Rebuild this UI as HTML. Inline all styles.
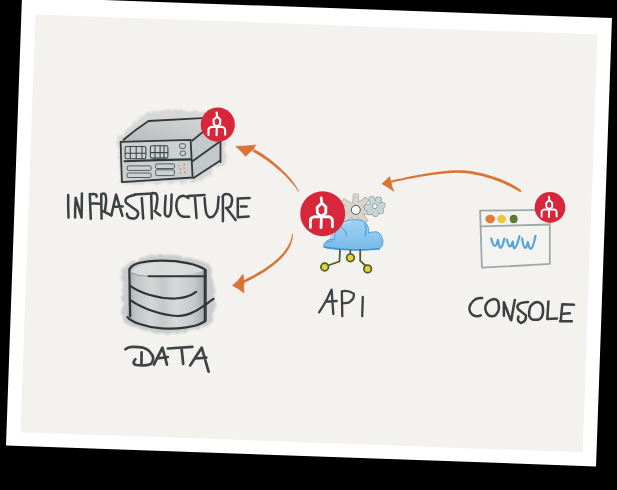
<!DOCTYPE html>
<html><head><meta charset="utf-8"><title>INFRASTRUCTURE · DATA · API · CONSOLE</title>
<style>
html,body{margin:0;padding:0;background:#000;width:617px;height:490px;overflow:hidden;}
svg{position:absolute;left:0;top:0;display:block;}
</style></head>
<body>
<svg width="617" height="490" viewBox="0 0 617 490" role="img" aria-label="Hand-drawn diagram: API connected to INFRASTRUCTURE, DATA and CONSOLE">
<defs>
  <filter id="blur3" x="-30%" y="-30%" width="160%" height="160%"><feGaussianBlur stdDeviation="3"/></filter>
  <filter id="halo" x="-30%" y="-30%" width="160%" height="160%"><feTurbulence type="fractalNoise" baseFrequency="0.15" numOctaves="2" seed="3" result="n"/><feDisplacementMap in="SourceGraphic" in2="n" scale="7" result="d"/><feGaussianBlur in="d" stdDeviation="1.3"/></filter>
  <filter id="blur1" x="-30%" y="-30%" width="160%" height="160%"><feGaussianBlur stdDeviation="1"/></filter>
  <linearGradient id="cyl" x1="0" x2="1" y1="0" y2="0">
    <stop offset="0" stop-color="#a3a8a8"/><stop offset="0.1" stop-color="#c0c4c4"/><stop offset="0.3" stop-color="#d5d7d7"/>
    <stop offset="0.45" stop-color="#c6c9c9"/><stop offset="0.62" stop-color="#d7d9d9"/><stop offset="0.85" stop-color="#c4c8c8"/><stop offset="1" stop-color="#a5aaaa"/>
  </linearGradient>
  <filter id="blur2" x="-30%" y="-30%" width="160%" height="160%"><feGaussianBlur stdDeviation="2.2"/></filter>
  <linearGradient id="cloudg" x1="0" x2="0" y1="0" y2="1">
    <stop offset="0" stop-color="#9fd1f1"/><stop offset="0.55" stop-color="#8ac6ee"/><stop offset="1" stop-color="#76b9e8"/>
  </linearGradient>
  <linearGradient id="topf" x1="0" x2="1" y1="1" y2="0">
    <stop offset="0" stop-color="#b7bbbc"/><stop offset="1" stop-color="#d4d7d7"/>
  </linearGradient>
  <linearGradient id="srv" x1="0" x2="0" y1="0" y2="1">
    <stop offset="0" stop-color="#c9cdcd"/><stop offset="1" stop-color="#b3b8b8"/>
  </linearGradient>
  <g id="logo" fill="none" stroke="#fff" stroke-width="2.2" stroke-linecap="round" stroke-linejoin="round" transform="scale(0.97,0.95)">
    <path d="M-1.2,-12.6 L-0.7,-8.6 L-4.4,-5.0 L-4.1,-0.4 L-1.0,2.2 L2.4,-0.4 L2.5,-5.3 L-0.7,-8.6"/>
    <path d="M-1.0,2.2 L-1.3,11.2"/>
    <path d="M-1.0,2.6 L-6.8,2.4 Q-9.4,3.2 -9.6,5.2 L-9.6,11"/>
    <path d="M-1.0,2.6 L5.2,2.4 Q7.3,3.2 7.5,5.2 L7.6,10.6"/>
  </g>
</defs>

<!-- card -->
<g transform="translate(22,-4) rotate(2.04)">
  <rect x="0" y="1.1" width="590.4" height="448.6" fill="#ffffff"/>
  <rect x="14" y="18" width="562.6" height="418" fill="#f3f2ef"/>
</g>

<!-- ===== SERVER ===== -->
<g>
  <path d="M117,141 L126,130 L147,112 L170,110 L200,112 L224,116 L226,162 L197,182 L121,184 Z" fill="#d6d7d6" filter="url(#halo)"/>
  <path d="M120.6,141.9 L148.5,121 L202,118.1 L220.5,119.5 L220.5,161 L192.8,178 L121.9,182 Z" fill="#c4c8c8"/>
  <path d="M121,141.5 L148.5,121 L210,118.1 L191,139.9 Z" fill="url(#topf)"/>
  <path d="M120.6,141.9 L190.6,139.9 L192.6,177.5 L121.9,182.1 Z" fill="#ccd0d0"/>
  <path d="M192,140 L220.5,121 L220.5,161 L192.8,178 Z" fill="#c3c8c8"/>
  <g fill="none" stroke="#33383a" stroke-width="1.8" stroke-linecap="round" stroke-linejoin="round">
    <path d="M120.6,141.9 L190.6,139.9 L192.6,177.5 L121.9,182.1 Z"/>
    <path d="M123.5,139.7 Q135,130 148.5,121 L202,118.1"/>
    <path d="M192.1,140.7 L203.6,131.4"/>
    <path d="M192.1,161.4 L219.3,142.1"/>
    <path d="M193.6,177.9 L220,160.7"/>
    <path d="M220.5,141.4 L220.5,162.1"/>
    <path d="M124.5,161.3 Q158,160 190.6,159.4" stroke-width="2.1"/>
  </g>
  <g fill="none" stroke="#3c4143" stroke-width="1.05" stroke-linecap="round">
    <rect x="125.1" y="146.4" width="20.8" height="12.3" rx="1.5"/>
    <path d="M130.3,146.6 V158.5 M136.2,146.6 V158.5 M142,146.6 V158.5 M125.3,153.3 H145.7"/>
    <rect x="150.4" y="145.8" width="17.5" height="12.3" rx="1.5"/>
    <path d="M155,146 V158 M160.1,146 V158 M164,146 V158 M150.6,152.6 H167.7"/>
  </g>
  <g fill="none" stroke="#52575a" stroke-width="0.95">
    <rect x="179.6" y="143.8" width="5.8" height="4.6" rx="1.5"/>
    <rect x="180.2" y="151" width="5.2" height="4.5" rx="1.5"/>
    <rect x="127.1" y="165.9" width="24" height="4.5" rx="1.2"/>
    <rect x="127.1" y="173" width="24" height="4.5" rx="1.2"/>
    <rect x="155.6" y="163.9" width="18.8" height="4.6" rx="1.2"/>
    <rect x="155.6" y="169.8" width="18.8" height="5.8" rx="1.2"/>
  </g>
  <g fill="#e0782f">
    <circle cx="178.9" cy="165.9" r="0.7"/><circle cx="184.1" cy="164.6" r="0.8"/>
    <circle cx="180.2" cy="169.1" r="0.8"/><circle cx="184.1" cy="168.1" r="0.8"/>
    <circle cx="180.2" cy="173" r="0.8"/><circle cx="184.8" cy="172.4" r="0.8"/>
  </g>
  <circle cx="217.8" cy="124.6" r="17.1" fill="#d8263a"/>
  <use href="#logo" transform="translate(217.8,124.6)"/>
</g>

<!-- ===== INFRASTRUCTURE text ===== -->
<g fill="none" stroke="#3b4143" stroke-width="2.5" stroke-linecap="round" stroke-linejoin="round">
  <path d="M68.2,194.9 Q68,206 68.5,217.5"/>
  <path d="M75.7,197.8 Q75,208 75.1,217.5 M75.7,197.8 L81.6,217.5 M81.9,193.6 L81.6,217.5"/>
  <path d="M89.8,193.9 Q90.2,206 90.8,218.8 M89.8,194.5 Q94,193.3 96,194.5 Q97,195.5 96.5,196.8 M90.8,203.2 L99.5,203.7"/>
  <path d="M101.2,194.3 Q101.3,206 101.6,218.6 M101.8,194 Q104.5,192.8 105.6,195 Q106.5,198 106,203 L105,210.5 M103.6,211.3 L111.3,215.4"/>
  <path d="M111.3,215.4 L116.1,194.6 L122.4,215.8 M114.4,206.8 L122.7,206.4"/>
  <path d="M134.8,194.9 Q131,195.5 128.9,196.7 Q125.5,198.5 125.5,200.2 Q125.8,202 126.2,202.9 L137.3,210.9 Q138.5,213 138,215.1 Q136.5,218.6 133.8,218.6 Q129.5,218.5 128.3,217.2 Q126.9,215.5 126.9,213.7"/>
  <path d="M134.5,194.6 Q143,194 152.6,193.6 M141.8,198.1 Q142.5,208 143.2,218.6"/>
  <path d="M151.2,195.6 L151.9,218.6 M152.6,192.9 Q155,192.8 156,193.6 Q157.6,195.5 157.4,198.4 Q157,204 156,208.8 M154.6,210.9 Q157,213.5 160.2,215.4"/>
  <path d="M165.7,195.7 Q164.5,210 165,214.5 Q166.5,217.2 169,216.3 Q171,214 171.2,208 L171.6,194.5"/>
  <path d="M188.4,198.1 Q185,195.5 182.7,195.7 Q179,196.5 177.9,198.5 Q176,202 176.3,206.6 Q176.8,211 178.7,213.9 Q181,216.5 183.6,216.8 L189.2,216.8"/>
  <path d="M188,196.1 L204.6,194.9 M194.9,196.1 L196.5,218"/>
  <path d="M204.6,198.1 Q205,206 205.9,211.6 Q207,216.5 209.4,217.3 Q212,217.5 213.7,216 Q216.5,213 217.7,208.1 L218.6,196.7"/>
  <path d="M222.9,197.6 L222.9,221.2 M222.5,196.8 Q224,194 226,194.1 Q229.5,194 230.8,195.9 Q232.3,197.5 232.1,200.2 Q231.8,204.5 230.4,206.4 Q228.5,207.8 226,208.1 M226.9,208.6 L235.6,219.9"/>
  <path d="M237.8,198.5 L237.8,217.3 M237.8,198.5 L249.6,198.1 M240.9,206.4 L246.6,206.4 M237.8,217.3 L248.7,216.4"/>
</g>

<!-- ===== ARROWS ===== -->
<g fill="#da7436" stroke="none">
  <path d="M298.86,191.32 L298.30,190.11 L297.63,188.83 L296.88,187.51 L296.03,186.13 L295.10,184.72 L294.09,183.27 L292.99,181.78 L291.82,180.26 L290.59,178.72 L289.25,177.18 L287.85,175.63 L286.38,174.08 L284.86,172.51 L283.29,170.95 L281.67,169.38 L280.01,167.83 L278.31,166.28 L276.57,164.75 L274.80,163.23 L273.00,161.74 L271.18,160.28 L269.33,158.85 L267.45,157.47 L265.57,156.13 L263.67,154.84 L261.77,153.59 L259.87,152.39 L257.97,151.25 L256.07,150.18 L254.20,149.17 L252.80,151.83 L254.64,152.79 L256.49,153.81 L258.35,154.90 L260.21,156.04 L262.08,157.24 L263.95,158.48 L265.81,159.78 L267.66,161.11 L269.50,162.46 L271.33,163.85 L273.14,165.26 L274.92,166.70 L276.68,168.16 L278.40,169.63 L280.08,171.12 L281.71,172.61 L283.30,174.10 L284.84,175.60 L286.32,177.08 L287.75,178.56 L289.12,180.02 L290.44,181.43 L291.70,182.83 L292.88,184.20 L293.98,185.54 L295.00,186.85 L295.93,188.12 L296.76,189.35 L297.50,190.54 L298.14,191.68Z"/>
  <path d="M521.58,190.68 L520.26,189.66 L518.83,188.61 L517.31,187.56 L515.71,186.50 L514.02,185.45 L512.25,184.40 L510.35,183.43 L508.39,182.48 L506.36,181.55 L504.27,180.63 L502.13,179.73 L499.92,178.85 L497.67,178.00 L495.37,177.18 L493.03,176.38 L490.65,175.63 L488.23,174.90 L485.79,174.22 L483.32,173.58 L480.83,172.99 L478.32,172.44 L475.79,171.94 L473.26,171.50 L470.72,171.12 L468.17,170.79 L465.63,170.53 L463.10,170.34 L460.57,170.22 L458.06,170.17 L455.57,170.19 L453.46,170.30 L451.34,170.43 L449.20,170.59 L447.04,170.77 L444.86,170.98 L442.65,171.21 L440.44,171.47 L438.20,171.74 L435.96,172.04 L433.70,172.35 L431.43,172.68 L429.16,173.03 L426.88,173.40 L424.60,173.78 L422.32,174.17 L420.04,174.58 L417.76,175.00 L415.49,175.42 L413.22,175.86 L410.96,176.31 L408.71,176.76 L406.48,177.22 L404.26,177.68 L402.05,178.15 L399.87,178.63 L397.70,179.11 L395.56,179.59 L393.44,180.07 L391.34,180.55 L389.28,181.03 L389.72,182.97 L391.79,182.51 L393.88,182.05 L396.00,181.58 L398.14,181.12 L400.30,180.66 L402.49,180.21 L404.69,179.75 L406.90,179.30 L409.13,178.86 L411.38,178.43 L413.63,178.00 L415.89,177.58 L418.16,177.18 L420.43,176.79 L422.70,176.41 L424.98,176.04 L427.25,175.68 L429.51,175.34 L431.77,175.02 L434.03,174.72 L436.27,174.43 L438.50,174.16 L440.71,173.91 L442.91,173.68 L445.09,173.48 L447.25,173.29 L449.39,173.13 L451.51,173.00 L453.59,172.89 L455.63,172.81 L458.04,172.81 L460.47,172.88 L462.92,173.03 L465.38,173.23 L467.85,173.50 L470.33,173.83 L472.81,174.22 L475.28,174.67 L477.74,175.17 L480.20,175.72 L482.63,176.31 L485.05,176.95 L487.44,177.64 L489.80,178.36 L492.12,179.12 L494.41,179.90 L496.66,180.72 L498.86,181.57 L501.01,182.44 L503.10,183.33 L505.14,184.24 L507.11,185.17 L509.02,186.11 L510.85,187.05 L512.65,187.92 L514.38,188.80 L516.02,189.67 L517.58,190.55 L519.04,191.43 L520.42,192.32Z"/>
  <path d="M292.10,233.48 L291.90,235.29 L291.57,237.07 L291.13,238.82 L290.56,240.54 L289.88,242.24 L289.09,243.92 L288.18,245.57 L287.20,247.21 L286.15,248.87 L284.99,250.51 L283.73,252.14 L282.37,253.76 L280.90,255.36 L279.34,256.95 L277.67,258.53 L275.92,260.09 L274.07,261.64 L272.14,263.17 L270.12,264.69 L268.01,266.20 L265.83,267.70 L263.57,269.19 L261.23,270.66 L258.82,272.12 L256.33,273.57 L253.78,275.00 L251.16,276.42 L248.47,277.82 L245.72,279.21 L242.90,280.59 L244.10,283.01 L246.92,281.62 L249.70,280.20 L252.41,278.77 L255.06,277.32 L257.65,275.86 L260.17,274.39 L262.61,272.89 L264.99,271.38 L267.29,269.86 L269.51,268.31 L271.64,266.74 L273.69,265.16 L275.66,263.55 L277.54,261.93 L279.33,260.30 L281.02,258.64 L282.62,256.97 L284.12,255.28 L285.52,253.57 L286.82,251.84 L288.02,250.10 L289.10,248.33 L290.03,246.52 L290.81,244.69 L291.47,242.84 L292.01,240.99 L292.43,239.13 L292.71,237.26 L292.87,235.39 L292.90,233.52Z"/>
</g>
<g fill="#da7436" stroke="#da7436" stroke-width="0.9" stroke-linejoin="round">
  <path d="M235.8,146.4 Q246,146.5 255.6,145.1 Q253.5,147 253.8,149.2 Q249,152 245.6,156.2 Q241,150.5 235.8,146.4 Z"/>
  <path d="M382.1,183.8 Q386,180.5 389.6,176.7 Q390,179.5 390.8,181.8 Q391.5,187 393.8,191.2 Q387.5,186.5 382.1,183.8 Z"/>
  <path d="M232.6,285.5 Q238.5,281 243,274.4 Q243.2,278 244.2,281.2 Q243,287 243.9,292.8 Q238,288 232.6,285.5 Z"/>
</g>

<!-- ===== DATA cylinder ===== -->
<g>
  <path d="M122,272 Q128,257 160,255 Q195,256 211,266 L216,300 L212,324 Q190,334 165,334 Q133,331 122,320 Z" fill="#c9cccc" filter="url(#halo)"/>
  <path d="M129.3,270.2 Q131,262 161.4,260.7 Q190,261.5 205.7,270.2 L204.8,321.4 Q197.5,327 168.3,328.4 Q135,326 127.5,317.1 Z" fill="url(#cyl)"/>
  <path d="M131,271 Q138,263 161.4,262 Q190,262.5 204,270.5 Q190,275.5 150,276.5 Q135,276 131,271 Z" fill="#dcdede" opacity="0.85"/>
  <g fill="none" stroke="#2f3436" stroke-width="2.2" stroke-linecap="round" stroke-linejoin="round">
    <path d="M130.2,316.2 L129.3,270.2 C130.5,264 140,261 161.4,260.7 C180,260.6 198,264 205.7,270.2"/>
    <path d="M148.4,276.3 L204.8,276.3" stroke-width="2.1"/>
    <path d="M204.8,271.1 L204.8,321.4"/>
    <path d="M206.5,269.4 L206.5,321" stroke-width="1.0" stroke="#55595b"/>
    <path d="M130.2,285.9 C140,293 158,299 175,298.5 C186,298 192,295 196.1,291.9"/>
    <path d="M131,300.6 C142,308 160,315 178,316 C192,316 203,306 213.5,298.9"/>
    <path d="M127.5,317.1 C131,322 145,327 161.4,328.4 C178,329.5 197,327 204.8,321.4"/>
  </g>
  <path d="M130,272.5 Q139,276.5 148,276.3" fill="none" stroke="#8a8f90" stroke-width="0.8"/>
</g>

<!-- ===== DATA text ===== -->
<g fill="none" stroke="#3d4345" stroke-width="2.7" stroke-linecap="round" stroke-linejoin="round">
  <path d="M125.4,349.2 Q128,347 132.3,346.9 Q138,346.8 143.1,347.7 Q149,349.5 150.8,353.1 Q153.5,356 153.1,358.5 Q153,362 150.8,363.9 Q147,365.5 143.1,365.4 Q138,365.5 135.4,364.7 Q133,363.5 133.9,361.6 Q134.5,360 135.4,359.3"/>
  <path d="M141.6,352.3 L141.4,364.7"/>
  <path d="M153.9,364.7 L162.4,347.7 L167,364.7 M157,358.5 L167.8,357"/>
  <path d="M167.8,348.5 L192.4,346.9 M181.6,348.5 L183.2,363.9"/>
  <path d="M190.1,365.4 L201.7,347.7 L208.6,371.6 M195.5,358.5 L206.3,357.7"/>
</g>

<!-- ===== API icon ===== -->
<g>
  <!-- gear big -->
  <g transform="translate(355.8,209.9)">
    <g fill="#aba69f" stroke="#aba69f" stroke-width="1.3" stroke-linejoin="round"><path d="M-1.97,-5.04 L-11.68,-10.86 L-14.20,-7.26 L-5.41,-0.12Z"/><path d="M3.00,-4.50 L2.20,-15.80 L-2.20,-15.80 L-3.00,-4.50Z"/><path d="M5.30,-1.06 L12.73,-9.62 L9.62,-12.73 L1.06,-5.30Z"/><path d="M4.04,3.60 L15.34,4.38 L15.95,0.02 L4.87,-2.34Z"/><path d="M0.59,5.38 L8.47,13.52 L11.84,10.69 L5.19,1.52Z"/><path d="M-3.38,4.22 L-3.57,15.55 L0.81,15.93 L2.60,4.74Z"/><path d="M-5.38,0.59 L-13.52,8.47 L-10.69,11.84 L-1.52,5.19Z"/><path d="M-4.22,-3.38 L-15.55,-3.57 L-15.93,0.81 L-4.74,2.60Z"/><circle r="7.6"/></g>
    <g fill="#d6d2cc"><path d="M-1.97,-5.04 L-11.68,-10.86 L-14.20,-7.26 L-5.41,-0.12Z"/><path d="M3.00,-4.50 L2.20,-15.80 L-2.20,-15.80 L-3.00,-4.50Z"/><path d="M5.30,-1.06 L12.73,-9.62 L9.62,-12.73 L1.06,-5.30Z"/><path d="M4.04,3.60 L15.34,4.38 L15.95,0.02 L4.87,-2.34Z"/><path d="M0.59,5.38 L8.47,13.52 L11.84,10.69 L5.19,1.52Z"/><path d="M-3.38,4.22 L-3.57,15.55 L0.81,15.93 L2.60,4.74Z"/><path d="M-5.38,0.59 L-13.52,8.47 L-10.69,11.84 L-1.52,5.19Z"/><path d="M-4.22,-3.38 L-15.55,-3.57 L-15.93,0.81 L-4.74,2.60Z"/><circle r="7.6"/></g>
    <circle r="4.5" fill="#fbfbfa" stroke="#3f4446" stroke-width="0.9"/>
  </g>
  <!-- gear small -->
  <g transform="translate(374.8,206.2)">
    <g fill="#8ea2a6" stroke="#8ea2a6" stroke-width="1.4"><circle cx="-2.89" cy="-6.81" r="2.7"/><circle cx="3.81" cy="-6.34" r="2.7"/><circle cx="7.36" cy="-0.77" r="2.7"/><circle cx="5.83" cy="4.56" r="2.7"/><circle cx="0.64" cy="7.37" r="2.7"/><circle cx="-4.76" cy="5.67" r="2.7"/><circle cx="-7.29" cy="1.28" r="2.7"/><circle r="5.4"/></g>
    <g fill="#c9d6d8"><circle cx="-2.89" cy="-6.81" r="2.7"/><circle cx="3.81" cy="-6.34" r="2.7"/><circle cx="7.36" cy="-0.77" r="2.7"/><circle cx="5.83" cy="4.56" r="2.7"/><circle cx="0.64" cy="7.37" r="2.7"/><circle cx="-4.76" cy="5.67" r="2.7"/><circle cx="-7.29" cy="1.28" r="2.7"/><circle r="5.4"/></g>
    <circle r="2.5" fill="#eef2f2" stroke="#7f9397" stroke-width="0.9"/>
  </g>
  <!-- cloud -->
  <path d="M329,240 Q331,233 337,229 L342,228 L344,240 Z" fill="#9fd0f0"/>
  <path d="M323.5,247.1 Q323.8,244 324.7,243.2 Q326.5,240.5 329.6,239.5 Q332.5,239 334.5,239.8 Q334.5,236 335.1,233.4 Q336.5,229 339.4,226 Q342.5,222.5 346.2,221.1 Q350.5,219.5 354.7,219.7 Q359,219.8 362.1,220.5 Q365.5,222 367,224.8 Q368.8,227.5 368.8,230.9 L368.4,233.2 Q370,232.3 371.9,232.1 Q375,231.5 378,232.1 Q380.5,233.5 381.6,236.4 Q383,239 382.9,241.9 Q382.8,245.5 381,247.4 Q380,248.6 378.6,249 Q366,249.9 354.7,249.9 Q344,249.8 336.4,249.3 Q328,248.8 323.5,247.1 Z" fill="url(#cloudg)" stroke="#4a9bdc" stroke-width="0.9"/>
  <path d="M325,247.3 Q340,249.6 354.7,249.9 Q368,249.9 379.5,248.7" fill="none" stroke="#3f93da" stroke-width="1.5" stroke-linecap="round"/>
  <path d="M326,242.5 Q329.5,240.5 333,241.5" fill="none" stroke="#4b9bdc" stroke-width="0.8"/>
  <path d="M342.1,227.6 Q345.8,230.5 346.9,235.5" fill="none" stroke="#3f93da" stroke-width="1.0" stroke-linecap="round"/>
  <path d="M365,223.4 Q367.5,229 365.2,236" fill="none" stroke="#3f93da" stroke-width="1.0" stroke-linecap="round"/>
  <path d="M340,226 Q345,222 351,221.5" fill="none" stroke="#c4e3f7" stroke-width="1.6" stroke-linecap="round" opacity="0.8"/>
  <circle cx="322.7" cy="213.7" r="22.5" fill="#d8263a"/>
  <use href="#logo" transform="translate(322.7,213.7) scale(1.32)"/>
  <!-- legs -->
  <g fill="none" stroke="#4b5e23" stroke-width="1.8" stroke-linecap="round" stroke-linejoin="round">
    <path d="M340,250.5 L339.4,261.5 L328,265.5"/>
    <path d="M350.4,250.5 L350.2,255"/>
    <path d="M360.2,249.9 L360.2,260.9 L366,266"/>
  </g>
  <g fill="#e3d03a" stroke="#4d6024" stroke-width="1.7">
    <circle cx="324.7" cy="267" r="3.8"/>
    <circle cx="350.4" cy="257.8" r="3.8"/>
    <circle cx="367.6" cy="268.9" r="3.8"/>
  </g>
</g>

<!-- ===== API text ===== -->
<g fill="none" stroke="#3d4345" stroke-width="2.3" stroke-linecap="round" stroke-linejoin="round">
  <path d="M319.1,312.3 Q324,305 327,299.3 L331.6,289.6 L333.3,314 M325.9,301.6 L336.7,301"/>
  <path d="M342.3,316.3 L341.8,291.3 Q348,290 353.7,293.6 Q355,299 348.6,302.7 L342.9,303.3"/>
  <path d="M362.8,297 L362.2,316.3"/>
</g>

<!-- ===== CONSOLE icon ===== -->
<g>
  <path d="M480.1,210.7 L549.8,209.8 L549.8,263.9 Q515,266 481.9,267.6 Z" fill="#f4f3f0" stroke="#9aa9ab" stroke-width="1.8" stroke-linejoin="round"/>
  <path d="M481,226.3 L549.8,224.5" stroke="#9aa9ab" stroke-width="1.8" fill="none"/>
  <ellipse cx="490.2" cy="219" rx="4.8" ry="4.2" fill="#e07b39"/>
  <ellipse cx="501.6" cy="219" rx="4.4" ry="4.2" fill="#e8c93a"/>
  <ellipse cx="513.7" cy="219" rx="3.9" ry="4.2" fill="#5b7a35"/>
  <path d="M491.3,238.5 Q493,246 494.9,246 Q496.5,246 498,239.8 Q499,247.8 500.7,247.8 Q502.5,247.5 504.3,238.5 M506.9,239.8 Q508.5,246.5 510.1,246.5 Q511.5,246 512.7,241.6 Q513.2,248.3 514.5,248.3 Q516.5,248 519.4,236.2 M522.1,238.5 Q523.5,247.8 525.2,247.8 Q526.8,247.5 527.9,242 Q529,248.7 531,248.7 Q533,248.5 535.5,235.8" fill="none" stroke="#4fa3df" stroke-width="2.2" stroke-linecap="round" stroke-linejoin="round"/>
  <circle cx="550" cy="207.4" r="15.3" fill="#d8263a"/>
  <use href="#logo" transform="translate(550,207.4) scale(0.9)"/>
</g>

<!-- ===== CONSOLE text ===== -->
<g fill="none" stroke="#3b4143" stroke-width="2.5" stroke-linecap="round" stroke-linejoin="round">
  <path d="M482.1,298.1 Q478.5,298 475.8,299 Q472.5,301 470.8,304 Q469.2,306.5 469.4,309.4 Q469.8,312.5 472.2,314.4 Q474.2,316 476.7,316.2 Q479,316.3 480.8,315.3"/>
  <path d="M494,299 Q490,299.5 487.6,302.2 Q485.2,305 485.3,308.5 Q485.5,312 487.6,314.4 Q489.2,316.2 491.2,316.2 Q494,316.3 495.8,314.9 Q498.8,312 498.9,308.5 Q499,303.5 498,301.3 Q496.5,299 494,299 Z"/>
  <path d="M503.9,302.2 L503.9,315.8 M503.9,302.2 L510.5,319.4 M514.8,299.9 Q513,310 511.2,320.3"/>
  <path d="M528,302 Q523.5,302.2 520.6,303.1 Q517.5,304.5 517.3,306.8 Q517.5,309 520.6,311.1 L525.9,315.4 Q526.2,318.5 524.8,320.7 Q522.8,322.9 520.6,322.9 Q518.2,322 517.9,319.7 L518.4,316.5"/>
  <path d="M536.6,302 Q532.5,303 530.2,306.8 Q528.8,311 529.1,315.4 Q530.5,319.5 533.4,319.7 Q537,320.2 539.8,319.1 Q542.8,316.5 543,312.2 Q543.3,307 541.9,304.7 Q539.8,302 536.6,302 Z"/>
  <path d="M548.4,301.5 L547.3,319.1 L556.9,318.6"/>
  <path d="M562.3,304.2 L560.7,321.3 M563.3,304.2 L574,304.7 M563.3,313.8 L569.8,313.3 M560.1,321.3 L571.9,321.3"/>
</g>

</svg>
</body></html>
